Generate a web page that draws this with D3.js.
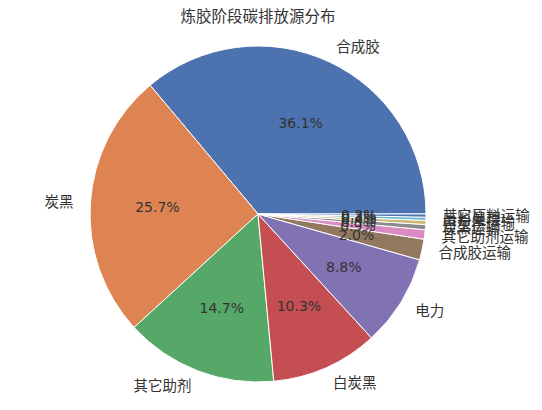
<!DOCTYPE html>
<html>
<head>
<meta charset="utf-8">
<script src="https://cdn.jsdelivr.net/npm/d3@7/dist/d3.min.js"></script>
<style>
  html, body { margin: 0; padding: 0; background: #fff; }
  svg text { font-family: "DejaVu Sans", "Noto Sans CJK SC", sans-serif; fill: #333; }
</style>
</head>
<body>
<svg id="chart" width="542" height="410"></svg>
<script>
// Emission sources in the mixing stage (share of total, %)
const categories = ["合成胶", "炭黑", "其它助剂", "白炭黑", "电力", "合成胶运输",
                    "其它助剂运输", "炭黑运输", "白炭黑运输", "废料处理", "其它原料运输"];
const shares = [36.1, 25.7, 14.7, 10.3, 8.8, 2.0, 0.9, 0.5, 0.4, 0.3, 0.3];
const palette = ["#4C72B0", "#DD8452", "#55A868", "#C44E52", "#8172B3",
                 "#937860", "#DA8BC3", "#8C8C8C", "#CCB974", "#64B5CD"];
const title = "炼胶阶段碳排放源分布";

const svg = d3.select("#chart");
const cx = 258, cy = 214, radius = 168;

const color = d3.scaleOrdinal().domain(d3.range(categories.length))
  .range(palette);

// Counter-clockwise from 3 o'clock
const pie = d3.pie().sort(null)
  .startAngle(Math.PI / 2)
  .endAngle(Math.PI / 2 - 2 * Math.PI)
  .value(d => d.value);

const data = categories.map((c, i) => ({ name: c, value: shares[i], i }));
const arcs = pie(data);

const arc = d3.arc().innerRadius(0).outerRadius(radius);
const pctArc = d3.arc().innerRadius(radius * 0.6).outerRadius(radius * 0.6);
const labelArc = d3.arc().innerRadius(radius * 1.1).outerRadius(radius * 1.1);

const g = svg.append("g").attr("transform", `translate(${cx},${cy})`);

g.selectAll("path.slice").data(arcs).join("path")
  .attr("class", "slice")
  .attr("d", arc)
  .attr("fill", d => color(d.data.i))
  .attr("stroke", "#fff")
  .attr("stroke-width", 1)
  .attr("stroke-linejoin", "round");

g.selectAll("text.name").data(arcs).join("text")
  .attr("class", "name")
  .attr("transform", d => `translate(${labelArc.centroid(d)})`)
  .attr("text-anchor", d => labelArc.centroid(d)[0] > 0 ? "start" : "end")
  .attr("dominant-baseline", "central")
  .style("font-size", "14.5px")
  .text(d => d.data.name);

g.selectAll("text.pct").data(arcs).join("text")
  .attr("class", "pct")
  .attr("transform", d => `translate(${pctArc.centroid(d)})`)
  .attr("text-anchor", "middle")
  .attr("dominant-baseline", "central")
  .style("font-size", "14px")
  .text(d => d3.format(".1f")(d.data.value) + "%");

svg.append("text")
  .attr("x", cx).attr("y", 17)
  .attr("text-anchor", "middle")
  .attr("dominant-baseline", "central")
  .style("font-size", "15.5px")
  .text(title);
</script>
</body>
</html>
